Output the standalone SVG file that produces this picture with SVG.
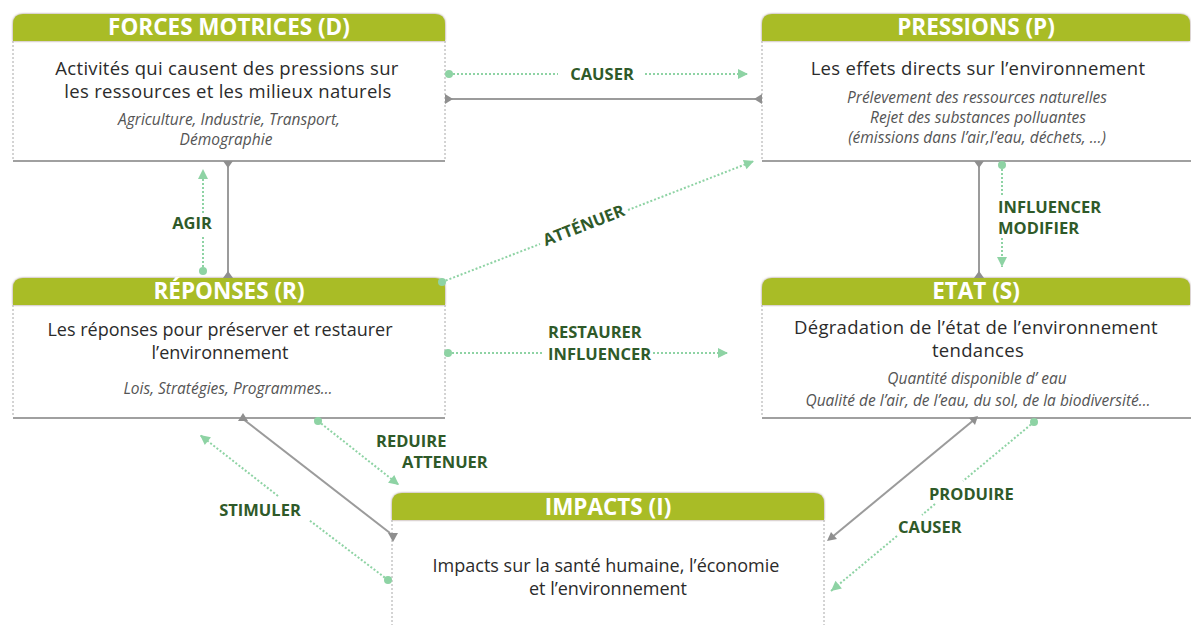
<svg xmlns="http://www.w3.org/2000/svg" width="1191" height="625" viewBox="0 0 1191 625">
<defs>
<filter id="sh" x="-5%" y="-30%" width="110%" height="160%">
<feDropShadow dx="0" dy="0" stdDeviation="1.3" flood-color="#6b4a3a" flood-opacity="0.7"/>
</filter>
<marker id="ga" markerUnits="userSpaceOnUse" markerWidth="12" markerHeight="12" viewBox="0 0 12 12" refX="11" refY="6" orient="auto">
<path d="M1,1 L11,6 L1,11 z" fill="#8ed3a4"/>
</marker>
</defs>
<style>
.hdr{fill:#a9bc26;filter:url(#sh)}
.ht{font-family:"Open Sans",sans-serif;font-weight:bold;font-size:22.5px;fill:#ffffff;text-anchor:middle}
.bt{font-family:"Open Sans",sans-serif;font-size:18.5px;letter-spacing:0.3px;fill:#2b2b2b;text-anchor:middle}
.bn{letter-spacing:0;font-size:18px}
.it{font-family:"Open Sans",sans-serif;font-style:italic;font-size:15.5px;fill:#555555;text-anchor:middle}
.side{stroke:#a8a8a8;stroke-width:1;stroke-dasharray:2 2;fill:none}
.base{stroke:#a0a0a0;stroke-width:2;fill:none}
.gl{stroke:#9b9b9b;stroke-width:2;fill:none}
.gt{fill:#8f8f8f}
.dl{stroke:#8ed3a4;stroke-width:2;stroke-dasharray:2 2;fill:none}
.dot{fill:#8ed3a4}
.lb{font-family:"Open Sans",sans-serif;font-weight:bold;font-size:16.5px;fill:#2f5a29}
</style>

<g id="node-D">
<path class="hdr" d="M13,41 V24 Q13,14 23,14 H435 Q445,14 445,24 V41 Z"/>
<text class="ht" x="229" y="35">FORCES MOTRICES (D)</text>
<line class="side" x1="13" y1="41" x2="13" y2="160"/>
<line class="side" x1="445" y1="41" x2="445" y2="160"/>
<line class="base" x1="13" y1="161" x2="445" y2="161"/>
<text class="bt" x="227" y="75">Activités qui causent des pressions sur</text>
<text class="bt" x="228" y="98">les ressources et les milieux naturels</text>
<text class="it" x="229" y="125">Agriculture, Industrie, Transport,</text>
<text class="it" x="226" y="145">Démographie</text>
</g>

<g id="node-P">
<path class="hdr" d="M762,41 V24 Q762,14 772,14 H1180 Q1190,14 1190,24 V41 Z"/>
<text class="ht" x="976" y="35">PRESSIONS (P)</text>
<line class="side" x1="762" y1="41" x2="762" y2="160"/>
<line class="base" x1="762" y1="161" x2="1191" y2="161"/>
<text class="bt" x="978" y="75">Les effets directs sur l’environnement</text>
<text class="it" x="977" y="103">Prélevement des ressources naturelles</text>
<text class="it" x="978" y="123">Rejet des substances polluantes</text>
<text class="it" x="977" y="143">(émissions dans l’air,l’eau, déchets, …)</text>
</g>

<g id="node-R">
<path class="hdr" d="M13,305 V288 Q13,278 23,278 H435 Q445,278 445,288 V305 Z"/>
<text class="ht" x="229" y="299">RÉPONSES (R)</text>
<line class="side" x1="13" y1="305" x2="13" y2="417"/>
<line class="side" x1="445" y1="305" x2="445" y2="417"/>
<line class="base" x1="13" y1="418" x2="445" y2="418"/>
<text class="bt bn" x="220" y="336">Les réponses pour préserver et restaurer</text>
<text class="bt bn" x="220" y="359">l’environnement</text>
<text class="it" x="228" y="394">Lois, Stratégies, Programmes…</text>
</g>

<g id="node-S">
<path class="hdr" d="M762,305 V288 Q762,278 772,278 H1180 Q1190,278 1190,288 V305 Z"/>
<text class="ht" x="976" y="299">ETAT (S)</text>
<line class="side" x1="762" y1="305" x2="762" y2="417"/>
<line class="base" x1="762" y1="418" x2="1191" y2="418"/>
<text class="bt" x="976" y="334">Dégradation de l’état de l’environnement</text>
<text class="bt" x="978" y="357">tendances</text>
<text class="it" x="977" y="384">Quantité disponible d’ eau</text>
<text class="it" x="978" y="406">Qualité de l’air, de l’eau, du sol, de la biodiversité…</text>
</g>

<g id="node-I">
<path class="hdr" d="M392,520 V503 Q392,493 402,493 H814 Q824,493 824,503 V520 Z"/>
<text class="ht" x="608" y="515">IMPACTS (I)</text>
<line class="side" x1="392" y1="520" x2="392" y2="625"/>
<line class="side" x1="824" y1="520" x2="824" y2="625"/>
<text class="bt bn" x="606" y="572">Impacts sur la santé humaine, l’économie</text>
<text class="bt bn" x="608" y="595">et l’environnement</text>
</g>

<g id="connectors">
<line class="gl" x1="445" y1="99" x2="762" y2="99"/>
<polygon class="gt" points="445,94 445,104 453,99"/>
<polygon class="gt" points="762,94 762,104 754,99"/>

<line class="gl" x1="228" y1="161" x2="228" y2="278"/>
<polygon class="gt" points="223,161 233,161 228,168"/>
<polygon class="gt" points="223,278 233,278 228,271"/>

<line class="gl" x1="979" y1="161" x2="979" y2="278"/>
<polygon class="gt" points="974,161 984,161 979,168"/>
<polygon class="gt" points="974,278 984,278 979,271"/>

<line class="gl" x1="243" y1="419" x2="390" y2="533"/>
<polygon class="gt" points="243,413 238,421 248,421"/>
<polygon class="gt" points="388,533 398,533 393,542"/>

<line class="gl" x1="975" y1="419" x2="831" y2="538"/>
<polygon class="gt" points="978,416 975,425 969,418"/>
<polygon class="gt" points="827,541 837,539 831,532"/>

<circle class="dot" cx="449" cy="74" r="4"/>
<line class="dl" x1="449" y1="74" x2="558" y2="74"/>
<line class="dl" x1="645" y1="74" x2="748" y2="74" marker-end="url(#ga)"/>
<text class="lb" x="602" y="80" text-anchor="middle">CAUSER</text>

<circle class="dot" cx="203" cy="271" r="4"/>
<line class="dl" x1="203" y1="271" x2="203" y2="237"/>
<line class="dl" x1="203" y1="213" x2="203" y2="169" marker-end="url(#ga)"/>
<text class="lb" x="192" y="229" text-anchor="middle">AGIR</text>

<circle class="dot" cx="1002" cy="165" r="4"/>
<line class="dl" x1="1002" y1="165" x2="1002" y2="195"/>
<line class="dl" x1="1002" y1="238" x2="1002" y2="267" marker-end="url(#ga)"/>
<text class="lb" x="998" y="213">INFLUENCER</text>
<text class="lb" x="998" y="234">MODIFIER</text>

<circle class="dot" cx="442" cy="282" r="4"/>
<line class="dl" x1="442" y1="282" x2="540" y2="244"/>
<line class="dl" x1="628" y1="210" x2="754" y2="161" marker-end="url(#ga)"/>
<text class="lb" transform="translate(584,226) rotate(-21.2)" x="0" y="5" text-anchor="middle">ATTÉNUER</text>

<circle class="dot" cx="448" cy="353" r="4"/>
<line class="dl" x1="448" y1="353" x2="542" y2="353"/>
<line class="dl" x1="653" y1="353" x2="728" y2="353" marker-end="url(#ga)"/>
<text class="lb" x="548" y="338">RESTAURER</text>
<text class="lb" x="548" y="360">INFLUENCER</text>

<circle class="dot" cx="318" cy="421" r="4"/>
<line class="dl" x1="318" y1="421" x2="399" y2="485" marker-end="url(#ga)"/>
<text class="lb" x="376" y="447">REDUIRE</text>
<text class="lb" x="402" y="468">ATTENUER</text>

<circle class="dot" cx="388" cy="580" r="4"/>
<line class="dl" x1="388" y1="580" x2="309" y2="520"/>
<line class="dl" x1="278" y1="496" x2="200" y2="435" marker-end="url(#ga)"/>
<text class="lb" x="260" y="516" text-anchor="middle">STIMULER</text>

<circle class="dot" cx="1034" cy="422" r="4"/>
<line class="dl" x1="1034" y1="422" x2="963" y2="481"/>
<line class="dl" x1="935" y1="504" x2="922" y2="515"/>
<line class="dl" x1="897" y1="536" x2="831" y2="591" marker-end="url(#ga)"/>
<text class="lb" x="929" y="500">PRODUIRE</text>
<text class="lb" x="898" y="533">CAUSER</text>
</g>
</svg>
